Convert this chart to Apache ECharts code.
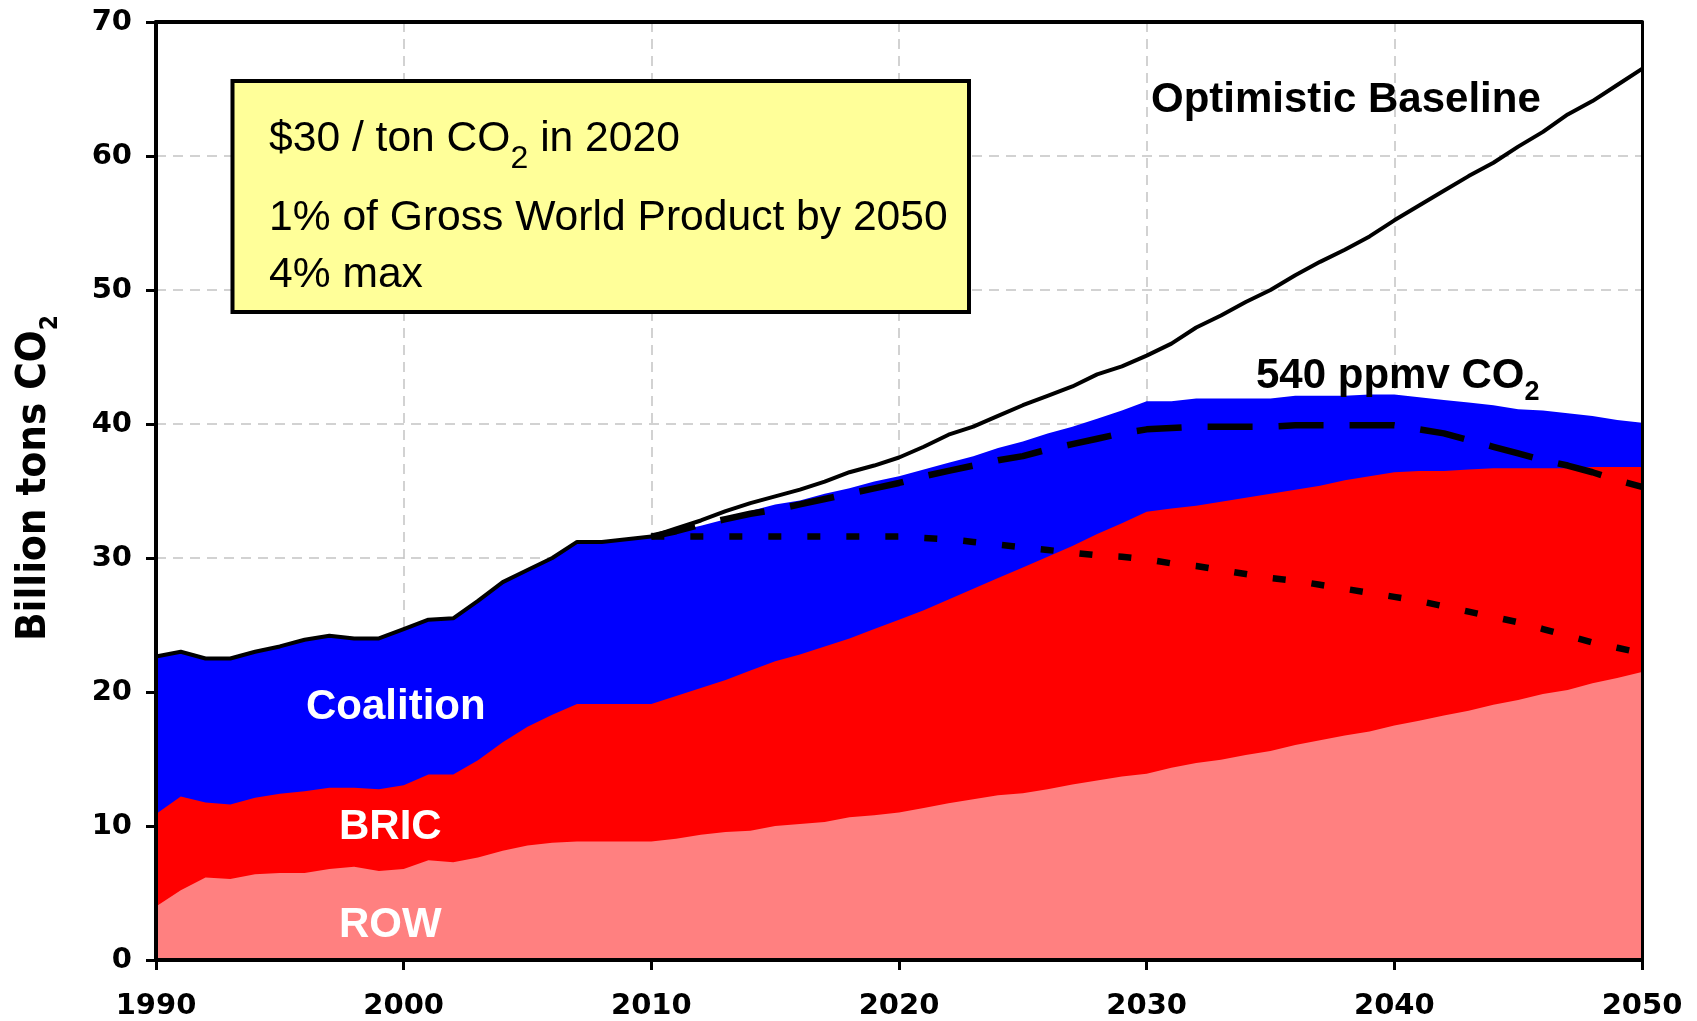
<!DOCTYPE html>
<html>
<head>
<meta charset="utf-8">
<script src="https://cdn.jsdelivr.net/npm/echarts/dist/echarts.min.js"></script>
<style>
html,body{margin:0;padding:0;background:#fff;}
#chart{width:1697px;height:1021px;}
</style>
</head>
<body>
<div id="chart"></div>
<script>
// ---- Data ----
const years = Array.from({length: 61}, (_, i) => 1990 + i);
const futureYears = years.slice(20); // 2010..2050

// Top of the stacked areas (Coalition + BRIC + ROW), billion tons CO2
const totalEmissions = [
  22.65,23.0,22.5,22.5,23.0,23.4,23.9,24.2,24.0,24.0,
  24.7,25.4,25.5,26.8,28.2,29.1,30.0,31.2,31.2,31.4,
  31.6,32.0,32.4,32.9,33.5,34.0,34.3,34.8,35.2,35.7,
  36.1,36.6,37.1,37.6,38.2,38.7,39.3,39.8,40.4,41.0,
  41.7,41.7,41.9,41.9,41.9,41.9,42.1,42.1,42.1,42.2,
  42.2,42.0,41.8,41.6,41.4,41.1,41.0,40.8,40.6,40.3,
  40.1
];
// Top of BRIC layer (BRIC + ROW)
const bricPlusRow = [
  10.9,12.2,11.75,11.6,12.1,12.4,12.6,12.85,12.85,12.75,
  13.05,13.85,13.85,14.9,16.25,17.4,18.3,19.1,19.1,19.1,
  19.1,19.7,20.3,20.9,21.6,22.3,22.8,23.4,24.0,24.7,
  25.4,26.1,26.9,27.7,28.5,29.3,30.1,30.9,31.8,32.6,
  33.45,33.7,33.9,34.2,34.5,34.8,35.1,35.4,35.8,36.1,
  36.4,36.5,36.5,36.6,36.7,36.7,36.7,36.7,36.8,36.8,
  36.8
];
// ROW layer
const rowEmissions = [
  4.0,5.2,6.15,6.05,6.4,6.5,6.5,6.8,6.95,6.65,
  6.8,7.45,7.3,7.65,8.15,8.55,8.75,8.85,8.85,8.85,
  8.85,9.05,9.35,9.55,9.65,10.0,10.15,10.3,10.65,10.8,
  11.0,11.35,11.7,12.0,12.3,12.45,12.75,13.1,13.4,13.7,
  13.9,14.35,14.7,14.95,15.3,15.6,16.05,16.4,16.75,17.05,
  17.5,17.85,18.25,18.6,19.05,19.4,19.85,20.15,20.65,21.05,
  21.5
];
// Optimistic baseline (black solid line)
const optimisticBaseline = [
  22.65,23.0,22.5,22.5,23.0,23.4,23.9,24.2,24.0,24.0,
  24.7,25.4,25.5,26.8,28.2,29.1,30.0,31.2,31.2,31.4,
  31.6,32.2,32.8,33.5,34.1,34.6,35.1,35.7,36.4,36.9,
  37.5,38.3,39.2,39.8,40.6,41.4,42.1,42.8,43.7,44.3,
  45.1,46.0,47.2,48.1,49.1,50.0,51.1,52.1,53.0,54.0,
  55.2,56.3,57.4,58.5,59.5,60.7,61.8,63.1,64.1,65.3,
  66.5
];
// 540 ppmv CO2 path (dashed), 2010..2050
const ppmv540Path = [
  31.6,32.0,32.5,32.9,33.3,33.6,34.0,34.4,34.8,35.2,
  35.6,36.1,36.5,36.9,37.3,37.6,38.1,38.5,38.9,39.3,
  39.6,39.7,39.8,39.8,39.8,39.8,39.9,39.9,39.9,39.9,
  39.9,39.6,39.3,38.8,38.3,37.8,37.3,36.9,36.4,35.8,
  35.3
];
// Dotted path, 2010..2050
const dottedPath = [
  31.6,31.6,31.6,31.6,31.6,31.6,31.6,31.6,31.6,31.6,
  31.6,31.5,31.4,31.2,31.0,30.8,30.6,30.4,30.2,30.1,
  29.9,29.6,29.4,29.1,28.8,28.5,28.3,28.0,27.7,27.4,
  27.1,26.8,26.4,26.0,25.6,25.2,24.7,24.2,23.7,23.3,
  22.9
];

const xMin = 1990, xMax = 2050, xStep = 10;
const yMin = 0, yMax = 70, yStep = 10;

// ---- Chart ----
const pairs = (xs, vs) => vs.map((v, i) => [xs[i], v]);
const chart = echarts.init(document.getElementById('chart'), null, {renderer: 'canvas'});

const tickFont = {fontFamily: 'DejaVu Sans', fontWeight: 'bold', fontSize: 29, color: '#000',
  formatter: v => String(v)};

function xAx(extra) {
  return Object.assign({type: 'value', min: xMin, max: xMax, interval: xStep,
    axisLine: {show: false}, axisTick: {show: false}, axisLabel: {show: false}, splitLine: {show: false}}, extra);
}
function yAx(extra) {
  return Object.assign({type: 'value', min: yMin, max: yMax, interval: yStep,
    axisLine: {show: false}, axisTick: {show: false}, axisLabel: {show: false}, splitLine: {show: false}}, extra);
}

const areaSeries = (name, vals, color) => ({
  name, type: 'line', data: pairs(years, vals), symbol: 'none', smooth: false,
  lineStyle: {width: 0}, areaStyle: {color, opacity: 1}, z: 2, silent: true
});

const boxMain = {fontFamily: 'Liberation Sans', fontSize: 42.6, lineHeight: 43, fill: '#000', color: '#000'};
const boldMain = {fontFamily: 'Liberation Sans', fontWeight: 'bold', fontSize: 42, lineHeight: 42, fill: '#000', color: '#000'};

const option = {
  animation: false,
  backgroundColor: '#fff',
  grid: {left: 156, right: 55, top: 22, bottom: 61, containLabel: false},
  xAxis: [
    xAx({position: 'bottom', z: 10,
      axisLine: {show: true, onZero: false, lineStyle: {color: '#000', width: 4}},
      axisTick: {show: true, inside: false, length: 10, lineStyle: {color: '#000', width: 3}},
      axisLabel: Object.assign({show: true, margin: 32}, tickFont)}),
    xAx({position: 'top', z: 10, axisLine: {show: true, onZero: false, lineStyle: {color: '#000', width: 4}}}),
    xAx({position: 'bottom', z: 0,
      splitLine: {show: true, lineStyle: {color: '#c4c4c4', width: 1.5, type: [10, 7]}}})
  ],
  yAxis: [
    yAx({position: 'left', z: 10,
      axisLine: {show: true, onZero: false, lineStyle: {color: '#000', width: 4}},
      axisTick: {show: true, inside: false, length: 10, lineStyle: {color: '#000', width: 3}},
      axisLabel: Object.assign({show: true, margin: 24}, tickFont)}),
    yAx({position: 'right', z: 10, axisLine: {show: true, onZero: false, lineStyle: {color: '#000', width: 3}}}),
    yAx({position: 'left', z: 0,
      splitLine: {show: true, lineStyle: {color: '#c4c4c4', width: 1.5, type: [10, 7]}}})
  ],
  series: [
    areaSeries('Coalition', totalEmissions, '#0000FF'),
    areaSeries('BRIC', bricPlusRow, '#FF0000'),
    areaSeries('ROW', rowEmissions, '#FF8080'),
    {name: 'Optimistic Baseline', type: 'line', data: pairs(years, optimisticBaseline), symbol: 'none',
      lineStyle: {color: '#000', width: 4}, z: 4, silent: true},
    {name: '540 ppmv CO2', type: 'line', data: pairs(futureYears, ppmv540Path), symbol: 'none',
      lineStyle: {color: '#000', width: 6.5, type: [45, 26], cap: 'butt'}, z: 5, silent: true},
    {name: 'Dotted path', type: 'line', data: pairs(futureYears, dottedPath), symbol: 'none',
      lineStyle: {color: '#000', width: 6.5, type: [13, 26], cap: 'butt'}, z: 5, silent: true}
  ],
  graphic: [
    {type: 'rect', z: 50, shape: {x: 232.5, y: 81, width: 736.5, height: 231},
      style: {fill: '#FFFF99', stroke: '#000', lineWidth: 4}},
    {type: 'text', z: 60, x: 269, y: 139.5, style: {
      text: '{m|$30 / ton CO}{s|2}{m| in 2020}', align: 'left', verticalAlign: 'middle',
      textAlign: 'left', textVerticalAlign: 'middle', fill: '#000',
      rich: {
        m: boxMain,
        s: {fontFamily: 'Liberation Sans', fontSize: 32, lineHeight: 43, verticalAlign: 'top',
            padding: [25, 0, 0, 0], fill: '#000', color: '#000'}
      }}},
    {type: 'text', z: 60, x: 269, y: 218, style: {
      text: '{m|1% of Gross World Product by 2050}', align: 'left', verticalAlign: 'middle',
      textAlign: 'left', textVerticalAlign: 'middle', fill: '#000', rich: {m: boxMain}}},
    {type: 'text', z: 60, x: 269, y: 275.5, style: {
      text: '{m|4% max}', align: 'left', verticalAlign: 'middle',
      textAlign: 'left', textVerticalAlign: 'middle', fill: '#000', rich: {m: boxMain}}},
    {type: 'text', z: 60, x: 1151, y: 100, style: {
      text: '{m|Optimistic Baseline}', align: 'left', verticalAlign: 'middle',
      textAlign: 'left', textVerticalAlign: 'middle', fill: '#000', rich: {m: boldMain}}},
    {type: 'text', z: 60, x: 1256, y: 376.5, style: {
      text: '{m|540 ppmv CO}{s|2}', align: 'left', verticalAlign: 'middle',
      textAlign: 'left', textVerticalAlign: 'middle', fill: '#000',
      rich: {
        m: boldMain,
        s: {fontFamily: 'Liberation Sans', fontWeight: 'bold', fontSize: 27, lineHeight: 42, verticalAlign: 'top',
            padding: [24, 0, 0, 0], fill: '#000', color: '#000'}
      }}},
    {type: 'text', z: 60, x: 306, y: 707, style: {
      text: 'Coalition', align: 'left', verticalAlign: 'middle',
      textAlign: 'left', textVerticalAlign: 'middle', fill: '#fff',
      font: 'bold 42px "Liberation Sans"'}},
    {type: 'text', z: 60, x: 339, y: 827, style: {
      text: 'BRIC', align: 'left', verticalAlign: 'middle',
      textAlign: 'left', textVerticalAlign: 'middle', fill: '#fff',
      font: 'bold 42px "Liberation Sans"'}},
    {type: 'text', z: 60, x: 339, y: 925, style: {
      text: 'ROW', align: 'left', verticalAlign: 'middle',
      textAlign: 'left', textVerticalAlign: 'middle', fill: '#fff',
      font: 'bold 42px "Liberation Sans"'}},
    {type: 'text', z: 60, x: 34.5, y: 478, rotation: Math.PI / 2, scaleX: 0.915, style: {
      text: '{m|Billion tons CO}{s|2}', align: 'center', verticalAlign: 'middle',
      textAlign: 'center', textVerticalAlign: 'middle', fill: '#000',
      rich: {
        m: {fontFamily: 'DejaVu Sans', fontWeight: 'bold', fontSize: 41, lineHeight: 41, fill: '#000', color: '#000'},
        s: {fontFamily: 'DejaVu Sans', fontWeight: 'bold', fontSize: 24, lineHeight: 41, verticalAlign: 'top',
            padding: [25, 0, 0, 0], fill: '#000', color: '#000'}
      }}}
  ]
};
chart.setOption(option);
</script>
</body>
</html>
